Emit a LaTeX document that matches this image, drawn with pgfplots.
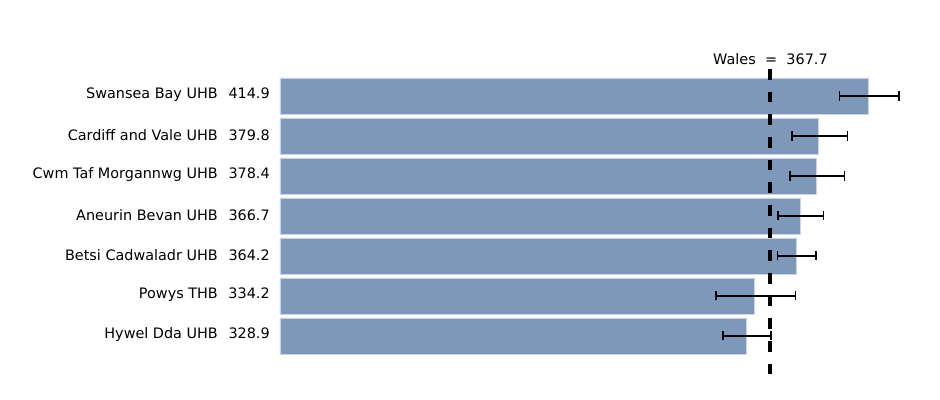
\documentclass[border=0pt]{standalone}
\usepackage{fontspec}
\setmainfont{DejaVu Sans}
\usepackage{pgfplots}
\pgfplotsset{compat=1.18}
\usepackage{pgfplotstable}
\definecolor{barblue}{RGB}{127,151,184}

% pos = row centre (px from top), val = rate, em/ep = lower/upper CI offsets
\pgfplotstableread{
pos val   em   ep
96  414.9 20.4 21.7
136 379.8 18.9 20.3
176 378.4 18.7 19.6
216 366.7 15.4 16.5
256 364.2 13.4 13.8
296 334.2 26.9 29.3
336 328.9 16.6 17.4
}\rates

\begin{document}
\begin{tikzpicture}
\begin{axis}[
    scale only axis,
    width=495pt, height=300pt,
    xmin=0, xmax=465.24,
    ymin=0, ymax=400, y dir=reverse,
    axis line style={draw=none},
    xtick=\empty,
    ytick={96,136,176,216,256,296,336},
    major tick length=0pt,
    yticklabels={
      Swansea Bay UHB\hspace{8pt}414.9,
      Cardiff and Vale UHB\hspace{8pt}379.8,
      Cwm Taf Morgannwg UHB\hspace{8pt}378.4,
      Aneurin Bevan UHB\hspace{8pt}366.7,
      Betsi Cadwaladr UHB\hspace{8pt}364.2,
      Powys THB\hspace{8pt}334.2,
      Hywel Dda UHB\hspace{8pt}328.9},
    yticklabel style={font=\fontsize{10.8}{13}\selectfont, anchor=east, inner sep=0pt, xshift=-7.5pt, yshift=0.8pt},
    clip=false,
]
\addplot[xbar, bar width=36, fill=barblue, draw=white!60!barblue, line width=0.5pt,
    error bars/.cd, x dir=both, x explicit,
    error bar style={line width=1.4pt, black},
    error mark options={rotate=90, line width=1.4pt, mark size=3.4pt, black}]
  table[x=val, y=pos, x error plus=ep, x error minus=em] {\rates};
\addplot[black, line width=3pt, dash pattern=on 8pt off 9pt] coordinates {(345.8,69) (345.8,375)};
\node[font=\fontsize{10.8}{13}\selectfont] at (axis cs:345.8,59) {Wales\hspace{7pt}=\hspace{7pt}367.7};
\path (axis cs:-197.4,0) rectangle (axis cs:465.24,400);
\end{axis}
\end{tikzpicture}
\end{document}
